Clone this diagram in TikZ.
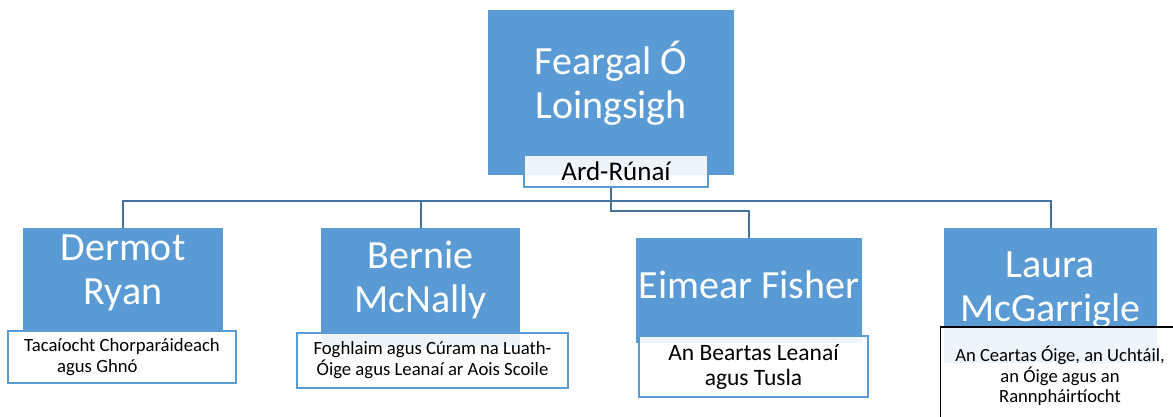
\documentclass[tikz,border=0pt]{standalone}
\usepackage{fontspec}
\setmainfont{Carlito}
\usetikzlibrary{backgrounds}
\definecolor{boxblue}{HTML}{5B9BD5}
\definecolor{linkblue}{HTML}{41719C}

\begin{document}
\begin{tikzpicture}[x=1pt,y=-1pt,
        namebox/.style={rectangle,fill=boxblue,text=white,inner sep=0pt,align=center,font=\fontsize{40}{44}\selectfont},
        rolebox/.style={rectangle,draw=boxblue,line width=1.5pt,fill=white,fill opacity=0.9,text opacity=1,inner sep=0pt,align=center,font=\fontsize{18.7}{21}\selectfont},
        link/.style={draw=linkblue,line width=2pt}]
            \useasboundingbox (0,0) rectangle (1173,416);

            \node [namebox,minimum width=246pt,minimum height=165pt,text depth=26pt] (root) at (611,92.5) {Feargal Ó\\Loingsigh};
            \node [rolebox,minimum width=184pt,minimum height=32pt,font=\fontsize{27}{30}\selectfont] (ardrunai) at (616,171) {Ard-Rúnaí};

            \node [namebox,minimum width=200pt,minimum height=102pt,text depth=18pt] (dermot) at (123,279) {Dermot\\Ryan};
            \node [rolebox,minimum width=228pt,minimum height=52pt,align=left] (dermotrole) at (122,357) {Tacaíocht Chorparáideach\\\hspace*{33pt}agus Ghnó};

            \node [namebox,minimum width=199pt,minimum height=119pt,text depth=22pt] (bernie) at (420.5,287.5) {Bernie\\McNally};
            \node [rolebox,minimum width=271pt,minimum height=55pt] (bernierole) at (432.5,360.5) {Foghlaim agus Cúram na Luath-\\Óige agus Leanaí ar Aois Scoile};

            \node [namebox,minimum width=226pt,minimum height=105pt,text depth=12pt] (eimear) at (749,290.5) {Eimear Fisher};
            \node [rolebox,minimum width=229pt,minimum height=61pt,font=\fontsize{23.5}{25}\selectfont] (eimearrole) at (753.5,366.5) {An Beartas Leanaí\\agus Tusla};

            \node [namebox,minimum width=213pt,minimum height=135pt,text depth=18pt] (laura) at (1050.5,295.5) {Laura\\McGarrigle};
            \node [rolebox,draw=black,minimum width=239pt,minimum height=98pt,font=\fontsize{18.6}{20.5}\selectfont] (laurarole) at (1060,376) {An Ceartas Óige, an Uchtáil,\\an Óige agus an\\Rannpháirtíocht};

            \begin{scope}[on background layer]
            \draw [link] (root.south) -- (root.south |- 0,211) -| (eimear.north);
            \draw [link] (dermot.north) -- (dermot.north |- 0,201) -| (laura.north);
            \draw [link] (bernie.north) -- (bernie.north |- 0,201);
            \end{scope}
        \end{tikzpicture}
\end{document}
